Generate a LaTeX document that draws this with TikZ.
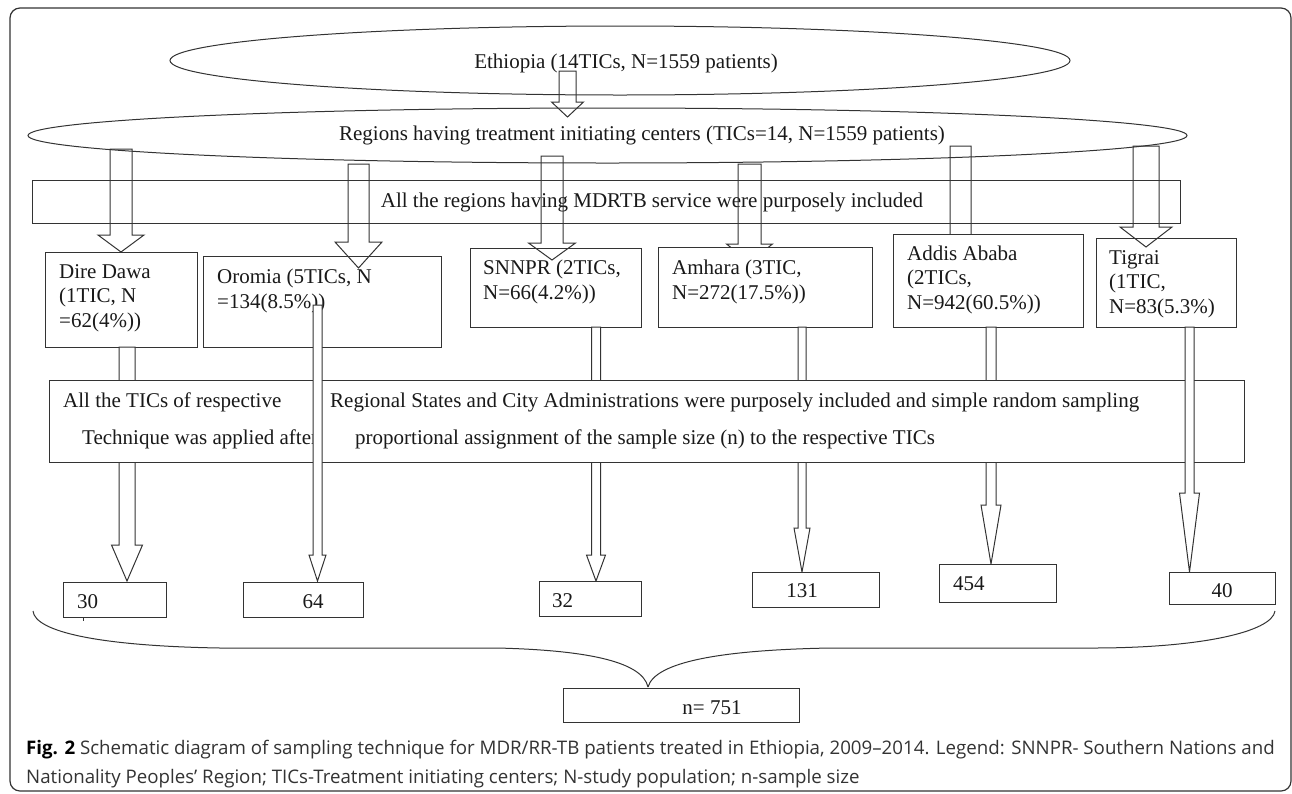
\documentclass[tikz,border=0pt]{standalone}
\usepackage{fontspec}
\setmainfont{Liberation Serif}
\newfontfamily\capfont{Open Sans}
\usetikzlibrary{shapes.geometric,calc}

% hollow block arrow: [opts]{start}{tip}{head length}{shaft half width}{head half width}
\newcommand{\hollowarrow}[6][]{%
  \path[ink,#1] let \p1=(#2), \p2=(#3) in
    (\x2-#5pt,\y1) -- (\x2-#5pt,\y2+#4pt) -- (\x2-#6pt,\y2+#4pt) -- (\x2,\y2)
    -- (\x2+#6pt,\y2+#4pt) -- (\x2+#5pt,\y2+#4pt) -- (\x2+#5pt,\y1) -- cycle;}

\begin{document}
\begin{tikzpicture}[x=1pt,y=-1pt,
  ink/.style={draw=black!80,line width=1pt},
  box/.style={ink,fill=white,inner sep=0pt,anchor=north west},
  oval/.style={ink,ellipse,inner sep=0pt},
  lbl/.style={inner sep=0pt,font=\fontsize{21}{24.5}\selectfont,text=black!90},
  captxt/.style={inner sep=0pt,anchor=base west,font=\capfont\fontsize{18.7}{28}\selectfont,text=black!80}]
  \useasboundingbox (0,0) rectangle (1292,793);

  % Outer frame
  \draw[ink,line width=1.2pt,rounded corners=10pt] (10,8) rectangle (1291,791);

  % Define the arrow ends
  \coordinate (e0a) at (567.5,71);  \coordinate (e0b) at (567.5,117);
  \coordinate (u1a) at (121,149);   \coordinate (u1b) at (121,252);
  \coordinate (u2a) at (358.5,164); \coordinate (u2b) at (358.5,268);
  \coordinate (u3a) at (552,156);   \coordinate (u3b) at (552,260);
  \coordinate (u4a) at (749.5,164); \coordinate (u4b) at (749.5,262);
  \coordinate (u5a) at (960.5,146); \coordinate (u5b) at (960.5,262);
  \coordinate (u6a) at (1146,146);  \coordinate (u6b) at (1146,247);
  \coordinate (l1a) at (127,347);   \coordinate (l1b) at (127,581);
  \coordinate (l2a) at (317.5,305); \coordinate (l2b) at (317.5,581);
  \coordinate (l3a) at (596,327);   \coordinate (l3b) at (596,581);
  \coordinate (l4a) at (802,327);   \coordinate (l4b) at (802,572);
  \coordinate (l5a) at (991,327);   \coordinate (l5b) at (991,564);
  \coordinate (l6a) at (1189.5,327); \coordinate (l6b) at (1189.5,572);

  % Ellipses
  \node[oval,minimum width=900pt,minimum height=69pt] (eth) at (620,60.5) {};
  \node[lbl,anchor=base] (ethtxt) at (626,68) {Ethiopia (14TICs, N=1559 patients)};
  \node[oval,minimum width=1159pt,minimum height=55pt] (reg) at (607.5,135.5) {};
  \node[lbl,anchor=base] (regtxt) at (642,140) {Regions having treatment initiating centers (TICs=14, N=1559 patients)};
  \hollowarrow{e0a}{e0b}{15}{8.5}{16}

  % All regions box
  \node[box,fill=none,minimum width=1148pt,minimum height=43pt] (allreg) at (32,180) {};
  \node[lbl,anchor=base] (allregtxt) at (652,207) {All the regions having MDRTB service were purposely included};

  \hollowarrow{u4a}{u4b}{18}{11.5}{23}
  \hollowarrow{u5a}{u5b}{17}{10.5}{23}

  % Regions (text placed by its last baseline)
  \node[box,minimum width=152pt,minimum height=95pt] (dd) at (45,252) {};
  \node[box,minimum width=238pt,minimum height=91pt] (oro) at (203,256) {};
  \node[box,minimum width=171pt,minimum height=79pt] (snn) at (470,248) {};
  \node[box,minimum width=214pt,minimum height=80pt] (amh) at (658,247) {};
  \node[box,minimum width=190pt,minimum height=93pt] (add) at (893,234) {};
  \node[box,minimum width=140pt,minimum height=89pt] (tig) at (1096,238) {};
  \node[lbl,align=left,anchor=base west] (ddtxt) at (59,327) {Dire Dawa\\(1TIC, N\\=62(4\%))};
  \node[lbl,align=left,anchor=base west] (orotxt) at (217,308) {Oromia (5TICs, N\\=134(8.5\%))};
  \node[lbl,align=left,anchor=base west] (snntxt) at (483,299) {SNNPR (2TICs,\\N=66(4.2\%))};
  \node[lbl,align=left,anchor=base west] (amhtxt) at (672,299) {Amhara (3TIC,\\N=272(17.5\%))};
  \node[lbl,align=left,anchor=base west] (addtxt) at (907,309) {Addis Ababa\\(2TICs,\\N=942(60.5\%))};
  \node[lbl,align=left,anchor=base west] (tigtxt) at (1109,313) {Tigrai\\(1TIC,\\N=83(5.3\%)};

  \hollowarrow{u1a}{u1b}{17}{11}{23}
  \hollowarrow{u2a}{u2b}{26}{10.5}{23.5}
  \hollowarrow{u3a}{u3b}{17}{11}{23.5}
  \hollowarrow{u6a}{u6b}{20}{13}{26}

  % Down to the samples
  \hollowarrow[fill=white]{l1a}{l1b}{36}{8}{15.5}
  \hollowarrow[fill=white]{l3a}{l3b}{26}{4.5}{9.5}
  \hollowarrow[fill=white]{l4a}{l4b}{44}{4}{8}
  \hollowarrow[fill=white]{l5a}{l5b}{59}{5}{10}

  % All TICs box
  \node[box,minimum width=1195pt,minimum height=82pt] (alltic) at (49,380) {};
  \node[lbl,anchor=base west] (tica) at (63,407) {All the TICs of respective};
  \node[lbl,anchor=base west] (ticb) at (330,407) {Regional States and City Administrations were purposely included and simple random sampling};
  \node[lbl,anchor=base west] (ticc) at (82,444) {Technique was applied after};
  \node[lbl,anchor=base west] (ticd) at (355,444) {proportional assignment of the sample size (n) to the respective TICs};

  \hollowarrow[fill=white]{l2a}{l2b}{26}{4.5}{8.5}
  \hollowarrow[fill=white]{l6a}{l6b}{79}{4.5}{10}

  % Sample sizes
  \node[box,minimum width=103pt,minimum height=35pt] (n30) at (63,582) {};
  \node[box,minimum width=120pt,minimum height=35pt] (n64) at (243,582) {};
  \node[box,minimum width=102pt,minimum height=35pt] (n32) at (539,581) {};
  \node[box,minimum width=127pt,minimum height=35pt] (n131) at (752,572) {};
  \node[box,minimum width=117pt,minimum height=38pt] (n454) at (939,564) {};
  \node[box,minimum width=106pt,minimum height=32pt] (n40) at (1169,572) {};
  \node[lbl,anchor=base west] (t30) at (77,608) {30};
  \node[lbl,anchor=base] (t64) at (313,608) {64};
  \node[lbl,anchor=base west] (t32) at (552,607) {32};
  \node[lbl,anchor=base] (t131) at (802,597) {131};
  \node[lbl,anchor=base west] (t454) at (953,590) {454};
  \node[lbl,anchor=base] (t40) at (1222,597) {40};
  \draw[ink] (83,617) -- (83,621);

  % Brace and total
  \coordinate (brL) at (33,611);
  \coordinate (brT) at (648,687);
  \coordinate (brR) at (1275,611);
  \draw[ink] (brL) .. controls (35,632) and (100,646) .. (220,648) -- (497,648)
    .. controls (580,650) and (642,660) .. (brT);
  \draw[ink] (brT) .. controls (655,662) and (720,650) .. (830,648) -- (1093,648)
    .. controls (1200,648) and (1272,632) .. (brR);
  \node[box,minimum width=236pt,minimum height=34pt] (ntot) at (563,688) {};
  \node[lbl,anchor=base] (ntottxt) at (712,714) {n= 751};

  % Caption
  \node[captxt] (capa) at (26,754) {\textcolor{black}{\bfseries Fig. 2} Schematic diagram of sampling technique for MDR/RR-TB patients treated in Ethiopia, 2009–2014. Legend: SNNPR- Southern Nations and};
  \node[captxt] (capb) at (26,783) {Nationality Peoples’ Region; TICs-Treatment initiating centers; N-study population; n-sample size};
\end{tikzpicture}
\end{document}
